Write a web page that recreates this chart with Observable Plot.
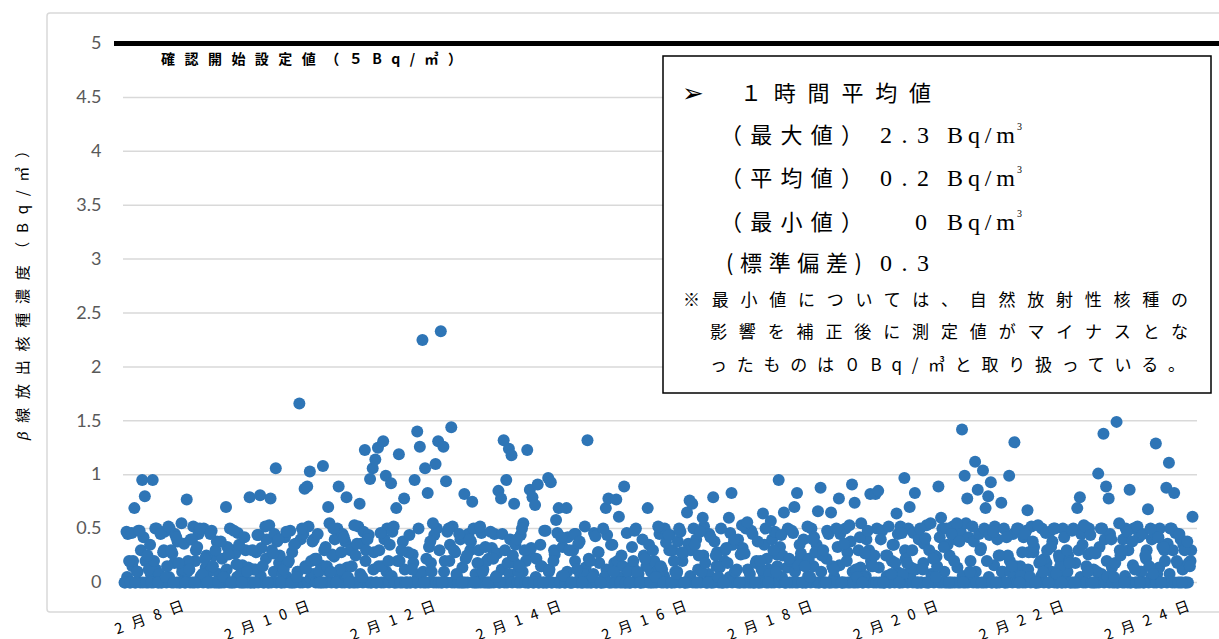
<!DOCTYPE html>
<html><head><meta charset="utf-8">
<script src="https://cdn.jsdelivr.net/npm/d3@7"></script>
<script src="https://cdn.jsdelivr.net/npm/@observablehq/plot@0.6"></script>
<style>
html,body{margin:0;padding:0;background:#fff;}
#chart{position:relative;width:1219px;height:639px;overflow:hidden;}
</style></head><body><div id="chart"></div>
<script>
// β concentrations (Bq/m³). "febDD" = 24 values on the hour; "febDDx" = 24 values at half past;
// "febDDz" = 24 values at quarter past.
const startTime = "2024-02-07T01:00:00Z";
const feb07 = [0.47,0.2,0.46,0.69,0.1,0.48,0.95,0.80,0.25,0.35,0.95,0.5,0,0.45,0.28,0.05,0.52,0.3,0,0.42,0.18,0.55,0.36,0.77];
const feb08 = [0.12,0.4,0,0.33,0.5,0.08,0.22,0,0.45,0.15,0.3,0,0.38,0.05,0.70,0.26,0,0.48,0.17,0.35,0,0.42,0.1,0.79];
const feb09 = [0.3,0,0.44,0.81,0.15,0.52,0,0.78,0.27,1.06,0.4,0,0.12,0.47,0.2,0,0.35,0.05,1.66,0.5,0.87,0.89,1.03,0.38];
const feb10 = [0.22,0.45,0,1.08,0.33,0.70,0.1,0.5,0,0.89,0.28,0.42,0.79,0,0.15,0.53,0.36,0.73,0.05,1.23,0.4,0.96,1.06,1.14];
const feb11 = [1.25,0.46,1.31,0.99,0.2,0.92,0.52,0.69,1.19,0.3,0.78,0,0.44,0.12,0.95,1.40,1.26,2.25,1.06,0.83,0.38,0.55,1.10,1.31];
const feb12 = [2.33,1.26,0.94,0.5,1.44,0.3,0.08,0.45,0,0.82,0.25,0.4,0.75,0,0.18,0.52,0.1,0.33,0,0.47,0.22,0.05,0.85,0.78];
const feb13 = [1.32,0.95,1.24,1.18,0.73,0.4,0.15,0.5,0.3,1.23,0.86,0.79,0.72,0.91,0.35,0,0.48,0.97,0.93,0.2,0.58,0.69,0.42,0.06];
const feb14 = [0.69,0.3,0,0.45,0.12,0.38,0,0.52,1.32,0.2,0.05,0.43,0.28,0,0.5,0.69,0.78,0.35,0.1,0.77,0.61,0.25,0.89,0.46];
const feb15 = [0,0.33,0.48,0.1,0,0.4,0.22,0.69,0,0.3,0.05,0.52,0.15,0,0.37,0.44,0,0.2,0.08,0.5,0.28,0,0.65,0.76];
const feb16 = [0.73,0.35,0,0.47,0.60,0.18,0,0.42,0.79,0.25,0.05,0.5,0,0.32,0.60,0.83,0.4,0.12,0,0.53,0.27,0.56,0.08,0.45];
const feb17 = [0,0.38,0.2,0.64,0.5,0,0.57,0.3,0.1,0.95,0.44,0.65,0,0.22,0.48,0.70,0.83,0.35,0,0.15,0.52,0.05,0.4,0.28];
const feb18 = [0.66,0.88,0.3,0,0.45,0.65,0.12,0.5,0.78,0,0.36,0.2,0.53,0.91,0.74,0.05,0.42,0,0.27,0.48,0.82,0.15,0.82,0.85];
const feb19 = [0.4,0,0.25,0.52,0.08,0.35,0.64,0,0.46,0.97,0.18,0.70,0.3,0.83,0,0.5,0.12,0.41,0,0.55,0.22,0.05,0.89,0.60];
const feb20 = [0.33,0.5,0,0.45,0.2,0.55,0.38,1.42,0.99,0.78,0.1,0.52,1.12,0.86,0.3,1.04,0.69,0.80,0.93,0.47,0,0.25,0.74,0.5];
const feb21 = [0.42,0.99,0.15,1.30,0.5,0,0.28,0.45,0.67,0.05,0.38,0,0.53,0.2,0.1,0.46,0,0.33,0.5,0.08,0.25,0,0.42,0.3];
const feb22 = [0.18,0.48,0,0.69,0.79,0.35,0.52,0.1,0.44,0,0.27,1.01,0.5,1.38,0.89,0.78,0.4,0.05,1.49,0.55,0.3,0,0.47,0.86];
const feb23 = [0.38,0.12,0.52,0,0.45,0.25,0.68,0.5,0.08,1.29,0.42,0,0.33,0.88,1.11,0.5,0.83,0.2,0.45,0,0.3,0.38,0.15,0.61];

const feb07x = [0,.45,0,.2,0,.48,.3,.42,0,.12,0,.2,.5,.08,0,.47,.15,.5,.27,.45,.38,0,.12,0];
const feb08x = [.2,.4,.52,.3,.45,.06,.5,.25,.1,.48,0,.38,0,.22,.05,.33,.5,0,.27,.46,.08,0,.3,.14];
const feb09x = [0,.12,.28,.44,.32,0,.4,.53,.3,.45,.38,.25,.08,.42,.18,.48,0,.36,.1,.4,.45,.13,.52,.2];
const feb10x = [.4,.22,.1,0,.3,.15,.55,.26,.4,.5,.12,.45,.38,.05,.3,0,.25,.52,.36,.47,.3,.44,0,.28];
const feb11x = [0,.3,.15,.4,.5,.35,.47,0,.2,0,.38,0,.28,0,.18,0,.5,.08,0,.22,.33,.1,.44,.5];
const feb12x = [.3,0,.2,.47,.35,.52,.28,0,.4,0,.22,.45,.38,.5,0,.3,.46,0,.2,0,.32,.45,.27,0];
const feb13x = [.45,.3,.18,.4,.25,.35,.1,.44,.55,.2,0,.32,0,.22,0,.15,.48,0,.12,0,.26,.46,0,.33];
const feb14x = [0,.42,0,.3,.45,.36,0,.08,0,.22,0,.46,0,.18,0,.05,.44,0,.35,0,.2,0,.15,0];
const feb15x = [.1,0,.2,.5,.08,0,.25,.15,.35,0,.2,.05,.45,.12,.5,0,.44,.3,.1,.38,.47,.27,0,.36];
const feb16x = [.3,.5,.4,.25,.1,.52,0,.45,0,.38,.28,.14,0,.3,.18,.46,.35,.1,.4,.26,0,.5,0,.48];
const feb17x = [0,.2,0,.12,.35,.22,.08,.4,.47,.15,.33,.25,0,.5,.2,.46,0,.16,.27,.4,0,.22,.5,.42];
const feb18x = [.35,0,.25,0,.48,0,.15,0,.33,.45,0,.5,0,.38,0,.12,.3,.55,.05,.4,.3,.15,.25,.5];
const feb19x = [0,.48,0,.25,0,.35,.18,.45,.52,.08,.22,.5,.14,.46,0,.4,0,.36,.53,.3,.05,.25,.15,.42];
const feb20x = [.5,0,.35,0,.52,.4,0,.47,0,.55,.42,.08,.38,0,.45,0,.5,.2,.44,0,.52,.4,.25,.1];
const feb21x = [0,.25,.1,.45,.15,.5,.06,.42,.48,.28,.52,.33,0,.18,.5,.22,.3,.47,.38,.5,0,.15,.5,0];
const feb22x = [.25,0,.5,0,.3,.45,.53,.15,.5,.28,0,.1,.33,.5,.4,.05,.45,0,.18,0,.25,.4,.5,.3];
const feb23x = [0,.5,0,.42,.1,0,.3,.15,.4,.45,.08,.5,.33,.2,.36,.5,.3,.46,0,.4,.35,0,.18,.3];

const feb07z = [0,.05,0,.15,0,.1,0,0,.2,0,.08,0,.12,0,0,.3,0,.05,0,.18,0,0,.1,0];
const feb08z = [.1,0,0,.2,0,.05,0,.14,0,0,.25,0,.08,0,0,.12,0,.3,0,.05,0,.16,0,0];
const feb09z = [0,0,.12,0,.06,0,.22,0,0,.1,0,.18,0,0,.05,0,.28,0,.1,0,0,.15,0,.04];
const feb10z = [.08,0,0,.16,0,0,.1,0,.24,0,.05,0,0,.14,0,.32,0,0,.08,0,.2,0,0,.12];
const feb11z = [0,.15,0,0,.1,0,.06,0,0,.2,0,.12,0,0,.26,0,.05,0,.1,0,0,.18,0,0];
const feb12z = [0,0,.1,0,.2,0,0,.05,0,.14,0,0,.3,0,.08,0,0,.12,0,.22,0,0,.06,0];
const feb13z = [.12,0,0,.08,0,.18,0,0,.1,0,0,.25,0,.05,0,.15,0,0,.1,0,.3,0,0,.06];
const feb14z = [0,.1,0,0,.2,0,.06,0,.14,0,0,.08,0,.28,0,0,.12,0,0,.18,0,.05,0,0];
const feb15z = [0,0,.16,0,.05,0,0,.22,0,.1,0,0,.14,0,.06,0,.3,0,0,.1,0,.2,0,0];
const feb16z = [.06,0,0,.12,0,.25,0,.08,0,0,.15,0,0,.2,0,.05,0,.1,0,0,.32,0,.12,0];
const feb17z = [0,.18,0,0,.08,0,.12,0,0,.26,0,.05,0,.14,0,0,.1,0,.22,0,0,.06,0,.15];
const feb18z = [0,0,.1,0,.22,0,0,.05,0,.16,0,0,.28,0,.1,0,0,.14,0,.06,0,.2,0,0];
const feb19z = [.14,0,0,.06,0,.2,0,.1,0,0,.3,0,.05,0,.12,0,0,.18,0,0,.08,0,.24,0];
const feb20z = [0,.1,0,.25,0,0,.14,0,.06,0,0,.2,0,.1,0,.32,0,0,.05,0,.16,0,0,.1];
const feb21z = [0,0,.2,0,.08,0,.15,0,0,.12,0,.28,0,0,.06,0,.18,0,.1,0,0,.22,0,.05];
const feb22z = [.1,0,0,.18,0,.05,0,0,.26,0,.12,0,0,.08,0,.2,0,.14,0,0,.3,0,.06,0];
const feb23z = [0,.16,0,0,.1,0,.22,0,.05,0,0,.14,0,.3,0,.08,0,0,.18,0,.12,0,0,.2];

const yTicks = [0,0.5,1,1.5,2,2.5,3,3.5,4,4.5,5];
const xTickDates = ["2024-02-08","2024-02-10","2024-02-12","2024-02-14","2024-02-16","2024-02-18","2024-02-20","2024-02-22","2024-02-24"];
const xTickLabels = ["2月8日","2月10日","2月12日","2月14日","2月16日","2月18日","2月20日","2月22日","2月24日"];
const threshold = 5;
const thresholdLabel = "確認開始設定値（５Bq/㎥）";
const yTitle = "線放出核種濃度（Bq/㎥）";

const hourly = [feb07,feb08,feb09,feb10,feb11,feb12,feb13,feb14,feb15,feb16,feb17,feb18,feb19,feb20,feb21,feb22,feb23].flat();
const halfHour = [feb07x,feb08x,feb09x,feb10x,feb11x,feb12x,feb13x,feb14x,feb15x,feb16x,feb17x,feb18x,feb19x,feb20x,feb21x,feb22x,feb23x].flat();
const quarter = [feb07z,feb08z,feb09z,feb10z,feb11z,feb12z,feb13z,feb14z,feb15z,feb16z,feb17z,feb18z,feb19z,feb20z,feb21z,feb22z,feb23z].flat();
const t0 = Date.parse(startTime);
const H = 3600e3;
const data = [];
quarter.forEach((v, i) => data.push({time: new Date(t0 + i*H - 3*H/4), value: v}));
halfHour.forEach((v, i) => data.push({time: new Date(t0 + i*H - H/2), value: v}));
hourly.forEach((v, i) => data.push({time: new Date(t0 + i*H), value: v}));
const xTicks = xTickDates.map(d => new Date(d + "T00:00:00Z"));
const xDomain = [new Date(t0), new Date(t0 + (hourly.length-1)*H)];

const plot = Plot.plot({
  width: 1219, height: 639,
  marginTop: 43, marginBottom: 57, marginLeft: 123, marginRight: 22,
  style: {fontFamily: "'Noto Sans CJK JP', sans-serif", background: "transparent", overflow: "visible"},
  x: {type: "utc", domain: xDomain, insetLeft: 3, insetRight: 5},
  y: {domain: [0, 5]},
  marks: [
    Plot.gridY(yTicks, {stroke: "#d9d9d9", strokeOpacity: 1, strokeWidth: 1.5}),
    Plot.axisY(yTicks, {tickSize: 0, tickPadding: 22, tickFormat: d => String(d), fontSize: 18, fill: "#595959", fontFamily: "Lato", label: null}),
    Plot.axisX(xTicks, {tickSize: 0, tickRotate: -20, tickPadding: 20, dx: 5,
      tickFormat: d => xTickLabels[xTicks.findIndex(t => +t === +d)], fontSize: 14.5, fill: "#000", label: null}),
    Plot.dot(data, {x: "time", y: "value", r: 6, fill: "#2e75b6"}),
    Plot.ruleY([threshold], {stroke: "#000", strokeWidth: 5, insetLeft: -9, insetRight: -27})
  ]
});
document.getElementById("chart").appendChild(plot);

const svg = d3.select(plot);
svg.selectAll('g[aria-label="x-axis tick label"] text').attr("letter-spacing", "9px");

// chart area border behind everything
svg.insert("rect", ":first-child")
  .attr("x", 47).attr("y", 13).attr("width", 1200).attr("height", 599).attr("rx", 3)
  .attr("fill", "none").attr("stroke", "#d9d9d9").attr("stroke-width", 1.5);

const ann = svg.append("g").attr("text-anchor", "start");
// y-axis title
const yt = ann.append("text")
  .attr("transform", "translate(28,291.5) rotate(-90)")
  .attr("text-anchor", "middle").attr("font-size", 15).attr("fill", "#000")
  .attr("font-family", "'Noto Sans CJK JP', sans-serif")
  .attr("textLength", 297).attr("lengthAdjust", "spacing");
yt.append("tspan").attr("font-style", "italic").attr("font-family", "'DejaVu Serif', serif").text("β");
yt.append("tspan").text(yTitle);

// threshold label
ann.append("text").attr("x", 161).attr("y", 64)
  .attr("font-size", 14).attr("font-weight", 700).attr("fill", "#000")
  .attr("font-family", "'Noto Sans CJK JP', sans-serif")
  .attr("textLength", 301).attr("lengthAdjust", "spacing")
  .text(thresholdLabel);

// statistics box
ann.append("rect").attr("x", 663).attr("y", 56).attr("width", 548).attr("height", 337)
  .attr("fill", "#fff").attr("stroke", "#000").attr("stroke-width", 1.5);

const jp = "'Noto Sans CJK JP', sans-serif";
const serif = "'Liberation Serif', 'DejaVu Serif', serif";
function seg(str, x, y, len, size, fam) {
  const t = ann.append("text").attr("x", x).attr("y", y).attr("font-size", size)
    .attr("font-family", fam).attr("fill", "#000").attr("text-anchor", "start").text(str);
  if (len) t.attr("textLength", len).attr("lengthAdjust", "spacing");
  return t;
}
seg("➢", 682, 102, null, 26, "'DejaVu Sans', sans-serif");
seg("１時間平均値", 740, 101, 191, 22, jp);
const rows = [["（最大値）", "2.3", 143], ["（平均値）", "0.2", 186], ["（最小値）", "0", 230]];
rows.forEach(([lab, val, y]) => {
  seg(lab, 720, y, 143, 22, jp);
  if (val.length > 1) seg(val, 880, y, 49, 24, serif);
  else seg(val, 915, y, null, 24, serif);
  seg("Bq/m", 947, y, 68, 24, serif);
  seg("3", 1017, y - 13, null, 10, serif);
});
seg("(標準偏差)", 726, 271, 136, 22, jp);
seg("0.3", 880, 271, 49, 24, serif);
seg("※最小値については、自然放射性核種の", 683, 306, 505, 17, jp);
seg("影響を補正後に測定値がマイナスとな", 710, 338, 478, 17, jp);
seg("ったものは０Bq/㎥と取り扱っている。", 710, 371, 475, 17, jp);
</script></body></html>
